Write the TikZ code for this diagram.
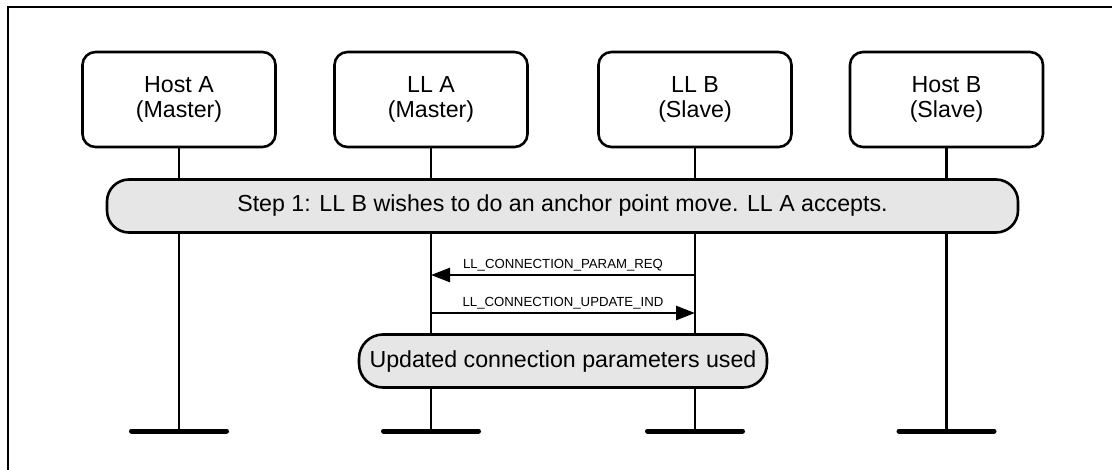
\documentclass[tikz,border=0pt]{standalone}
\usepackage{fontspec}
\setmainfont{Liberation Sans}
\usetikzlibrary{arrows.meta}
\definecolor{MSCGray}{HTML}{E6E6E6}
\begin{document}
\begin{tikzpicture}[x=0.5pt,y=-0.5pt,
  entity/.style={draw,line width=1.3pt,rounded corners=6.5pt,minimum width=96.5pt,minimum height=47.5pt,align=center,inner sep=0pt,font=\fontsize{11.6}{12.8}\selectfont},
  phase/.style={draw,line width=1.3pt,fill=MSCGray,rounded corners=11pt,minimum height=26.5pt,inner sep=0pt,font=\fontsize{11.6}{13}\selectfont},
  lifeline/.style={line width=1.3pt},
  endbar/.style={line width=2.5pt,line cap=round},
  msg/.style={line width=1.3pt,-{Triangle[length=9.5pt,width=7pt]}},
  msglabel/.style={anchor=base,yshift=3.5pt,inner sep=0pt,font=\fontsize{6.6}{8}\selectfont}]
\path[use as bounding box] (0,0) rectangle (1112,470);
\draw[line width=1.15pt] (7.8,470) -- (7.8,6.8) -- (1112,6.8);
\node[entity] (hostA) at (179,99.5) {Host A\\(Master)};
\node[entity] (llA) at (431,99.5) {LL A\\(Master)};
\node[entity] (llB) at (695,99.5) {LL B\\(Slave)};
\node[entity] (hostB) at (946.5,99.5) {Host B\\(Slave)};
\coordinate (hostAend) at (179,431);
\coordinate (llAend) at (431,431);
\coordinate (llBend) at (695,431);
\coordinate (hostBend) at (946.5,431);
\draw[lifeline] (hostA.south) -- (hostAend);
\draw[lifeline] (llA.south) -- (llAend);
\draw[lifeline] (llB.south) -- (llBend);
\draw[lifeline] (hostB.south) -- (hostBend);
\draw[endbar] ([xshift=-23.75pt]hostAend) -- ([xshift=23.75pt]hostAend);
\draw[endbar] ([xshift=-23.75pt]llAend) -- ([xshift=23.75pt]llAend);
\draw[endbar] ([xshift=-23.75pt]llBend) -- ([xshift=23.75pt]llBend);
\draw[endbar] ([xshift=-23.75pt]hostBend) -- ([xshift=23.75pt]hostBend);
\node[phase,minimum width=455.5pt] (step1) at (562.5,206) {Step 1: LL B wishes to do an anchor point move. LL A accepts.};
\coordinate (reqB) at (695,275);
\coordinate (reqA) at (431,275);
\coordinate (updA) at (431,313);
\coordinate (updB) at (695,313);
\draw[msg] (reqB) -- node[msglabel] {LL\_CONNECTION\_PARAM\_REQ} (reqA);
\draw[msg] (updA) -- node[msglabel] {LL\_CONNECTION\_UPDATE\_IND} (updB);
\node[phase,minimum width=204pt,rounded corners=12pt] (updated) at (563,361) {Updated connection parameters used};
\end{tikzpicture}
\end{document}
